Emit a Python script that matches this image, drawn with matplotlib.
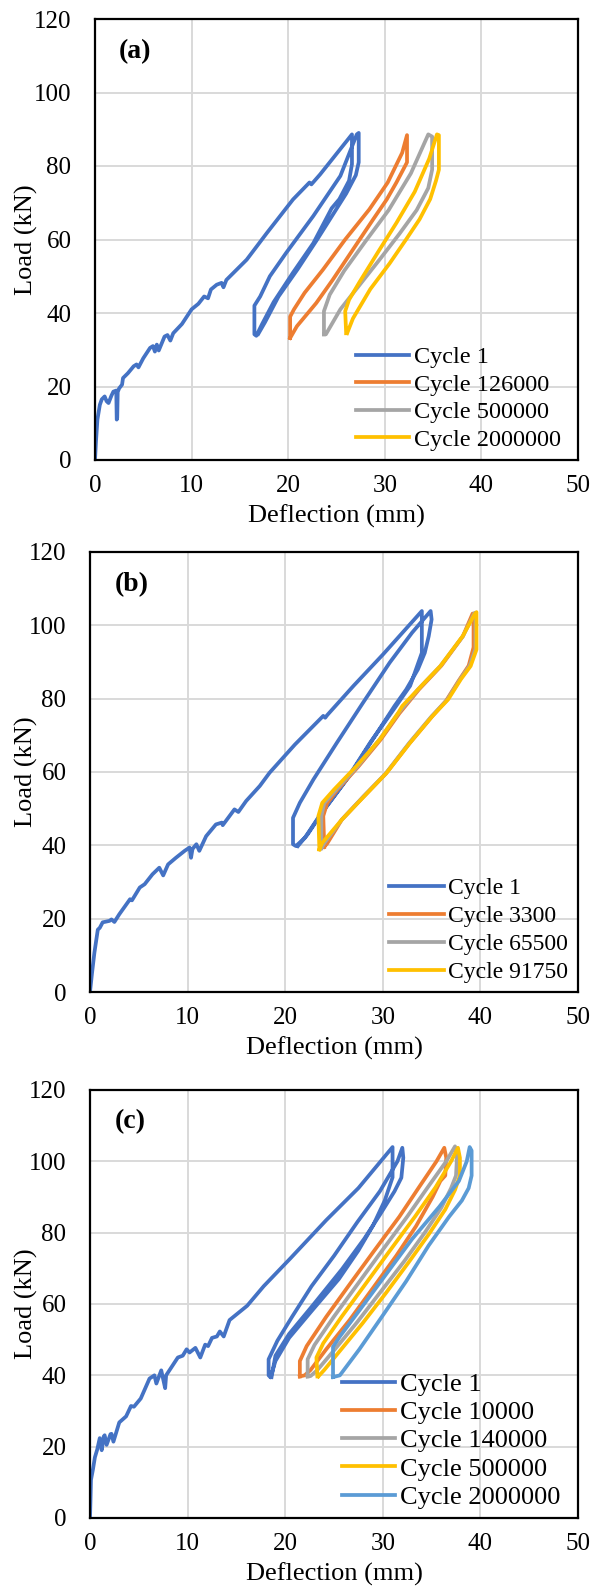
import matplotlib
matplotlib.use('Agg')
import matplotlib.pyplot as plt

plt.rcParams['font.family'] = ['Liberation Serif', 'DejaVu Serif']

# colours (Excel defaults)
c_blue = '#4472C4'
c_orange = '#ED7D31'
c_gray = '#A5A5A5'
c_yellow = '#FFC000'
c_lblue = '#5B9BD5'

# ---------------- panel (a) ----------------
a_c1_x = [0, 0.1, 0.25, 0.5, 0.7, 1.0, 1.2, 1.4, 1.7, 1.9, 2.2, 2.25, 2.3, 2.35, 2.5, 2.8, 2.9, 3.4, 4.0, 4.3, 4.5,
          5.0, 5.7, 6.0, 6.2, 6.4, 6.6, 7.2, 7.5, 7.8, 8.1, 9.0, 10.0, 10.7, 11.3, 11.7, 12.0, 12.6, 13.1, 13.3, 13.6,
          15.7, 17.8, 20.5, 22.2, 22.4, 23.3, 26.6,
          26.6, 26.3, 25.3, 24.5, 24.2, 22.6, 20.5, 18.5, 17.3, 16.7,
          16.5, 16.5, 17.1, 18.1, 19.8, 22.6, 25.4, 27.1, 27.3,
          27.3, 27.0, 26.0, 24.8, 23.0, 21.0, 19.0, 17.6, 16.9]
a_c1_y = [0, 5, 11, 15, 16.5, 17.3, 16, 15.5, 17.5, 18.6, 18.9, 11, 11.5, 18.5, 19.5, 20.5, 22.3, 23.6, 25.5, 26, 25.2,
          27.7, 30.5, 31, 29.5, 31.4, 29.8, 33.6, 34, 32.5, 34.5, 37, 41, 42.5, 44.5, 44, 46.4, 47.7, 48.2, 47, 49,
          54.5, 61.8, 70.9, 75.5, 75, 77.7, 88.6,
          80.5, 76, 71, 68.5, 67, 59, 51, 43, 37, 33.8,
          34.2, 42, 44.5, 50, 56.4, 66.4, 77.3, 88.6, 89,
          81, 77.5, 72.5, 67.5, 60, 52, 44.5, 37.5, 34.3]

a_c126k_x = [20.2, 20.2, 20.6, 21.7, 23.6, 25.9, 28.4, 30.3, 31.8, 32.3,
             32.3, 31.9, 31.2, 30.2, 28.8, 27.4, 26.0, 24.6, 22.9, 20.9, 20.2]
a_c126k_y = [33.2, 39, 41, 45.5, 51.8, 60, 68.2, 75.5, 83.6, 88.4,
             81, 79, 75.5, 70.9, 65.5, 60, 54.5, 49, 42.7, 36.4, 33.2]

a_c500k_x = [23.7, 23.7, 24.3, 25.8, 28.0, 30.4, 32.7, 34.5,
             34.9, 34.9, 34.5, 33.3, 31.5, 29.6, 27.5, 25.4, 23.9, 23.7]
a_c500k_y = [34.2, 40.5, 45, 51.5, 59.5, 68, 78, 88.6,
             88, 79, 74, 68, 61.5, 55, 48, 41, 34.2, 34.2]

a_c2m_x = [26.0, 25.9, 26.3, 27.4, 29.4, 31.2, 33.1, 34.6, 35.4,
           35.6, 35.6, 35.3, 34.7, 33.6, 32.2, 30.5, 28.5, 26.7, 26.1]
a_c2m_y = [34.5, 40.5, 43.6, 48.5, 57, 64.5, 73, 82, 88.6,
           88.4, 79, 76, 71, 65.5, 60, 53.5, 46.5, 38.5, 34.5]

a_labels = ['Cycle 1', 'Cycle 126000', 'Cycle 500000', 'Cycle 2000000']

# ---------------- panel (b) ----------------
b_c1_x = [0, 0.2, 0.45, 0.8, 1.0, 1.3, 2.0, 2.2, 2.5, 3.0, 4.1, 4.3, 5.1, 5.6, 6.4, 7.1, 7.5, 8.0, 8.8, 9.7,
          10.2, 10.35, 10.5, 10.9, 11.2, 11.9, 12.9, 13.5, 13.6, 14.8, 15.2, 16.0, 17.4, 18.4, 21.0, 23.9, 24.1,
          24.3, 27.0, 30.0, 34.0,
          34.0, 32.8, 31.1, 28.7, 26.3, 23.5, 22.0, 21.1,
          20.8, 20.8, 21.5, 22.9, 25.3, 28.0, 30.7, 33.0, 34.9,
          35.0, 34.7, 34.3, 33.6, 32.4, 31.2, 29.0, 26.6, 23.8, 22.3, 21.3]
b_c1_y = [0, 5, 10.7, 17, 17.5, 19, 19.4, 19.8, 19.1, 21.2, 25.3, 25, 28.5, 29.4, 32.1, 33.9, 31.8, 34.8, 36.6, 38.5,
          39.4, 36.6, 39, 40.3, 38.5, 42.5, 45.7, 46.2, 45.5, 49.8, 49.1, 52.1, 56.2, 59.8, 67.5, 75.3, 74.8,
          75.5, 83.5, 92, 103.9,
          92.5, 83.5, 77, 68, 58, 48, 42, 39.8,
          40.3, 47.5, 51.6, 58, 68, 79, 89.8, 98, 103.9,
          101.6, 97, 92.5, 88, 82.5, 78, 69, 59, 49, 43, 39.8]

b_c3300_x = [24.0, 23.9, 24.3, 25.3, 27.5, 29.8, 31.7, 33.7, 36.0, 38.2, 39.2,
             39.3, 39.3, 38.8, 37.8, 36.5, 35.0, 32.7, 30.3, 28.0, 25.8, 24.3, 24.0]
b_c3300_y = [39.6, 48, 51.5, 55, 61.5, 68.9, 76, 82.5, 89, 97, 103.2,
             103, 94, 89, 85, 79.5, 75, 67.7, 59.5, 53.2, 47, 40.5, 39.6]

b_c65500_x = [23.7, 23.7, 24.0, 25.2, 27.4, 29.7, 31.6, 33.6, 35.9, 38.2, 39.4,
              39.5, 39.5, 38.9, 37.9, 36.6, 35.0, 32.7, 30.3, 28.0, 25.8, 24.0, 23.7]
b_c65500_y = [39.2, 48, 51.5, 55.1, 61.5, 69, 76.1, 82.5, 88.9, 97, 103.4,
              103.2, 93.6, 89, 85.2, 79.7, 75.2, 67.9, 59.6, 53.3, 47, 40.6, 39.2]

b_c91750_x = [23.5, 23.4, 23.8, 25.0, 27.3, 29.7, 31.6, 32.0, 33.6, 35.9, 38.2, 39.4, 39.6,
              39.6, 39.0, 38.0, 36.7, 35.1, 32.8, 30.4, 28.1, 25.8, 23.8, 23.5]
b_c91750_y = [38.9, 48, 51.6, 55.2, 61.6, 68.9, 76.2, 78, 82.5, 88.9, 97.1, 103, 103.6,
              93.4, 88.9, 85.3, 79.8, 75.3, 68, 59.8, 53.4, 47, 40.7, 38.9]

b_labels = ['Cycle 1', 'Cycle 3300', 'Cycle 65500', 'Cycle 91750']

# ---------------- panel (c) ----------------
c_c1_x = [0, 0.05, 0.1, 0.3, 0.5, 0.74, 1.0, 1.2, 1.4, 1.5, 1.7, 2.1, 2.2, 2.4, 3.0, 3.7, 4.2, 4.5, 5.2, 6.1,
          6.6, 6.8, 7.3, 7.7, 7.8, 9.0, 9.5, 9.9, 10.2, 10.8, 11.3, 11.8, 12.1, 12.5, 13.0, 13.3, 13.7, 14.3,
          16.1, 17.8, 20.5, 24.2, 27.5, 31.0,
          31.0, 30.2, 29.0, 27.5, 25.5, 22.7, 20.4, 19.0, 18.5,
          18.3, 18.3, 19.2, 20.7, 22.7, 25.0, 27.4, 29.7, 31.5, 32.0,
          32.1, 31.9, 31.2, 29.7, 28.1, 25.8, 22.7, 20.4, 19.0, 18.6]
c_c1_y = [0, 5, 10.7, 13.6, 17, 19.2, 22.4, 19, 22.8, 23.2, 20.5, 23.5, 23.6, 21.4, 26.8, 28.5, 31.4, 31.2, 33.5, 39.1,
          40, 37.7, 41.4, 36.4, 40, 45, 45.5, 47.3, 46.4, 47.7, 45, 48.6, 48.2, 50.5, 50.9, 52.3, 50.9, 55.5,
          59.5, 65, 72.7, 83.5, 92.5, 104,
          95.5, 89, 82, 75, 67, 58, 50.5, 44, 39.4,
          40, 44.5, 49.7, 56.4, 65, 73.5, 83, 91.6, 100, 103.8,
          101, 95.4, 91.6, 85, 78.3, 69.7, 59.2, 51.6, 45.5, 39.5]

c_c10k_x = [21.5, 21.5, 22.2, 24.2, 26.6, 29.0, 31.7, 33.7, 35.5, 36.3,
            36.5, 36.4, 35.9, 35.1, 33.4, 31.4, 29.0, 26.6, 24.2, 22.6, 22.0, 21.5]
c_c10k_y = [39.7, 44, 48.2, 56.4, 65.5, 74.5, 84.5, 92.7, 100, 103.8,
            101, 96, 94.5, 90, 81.8, 73.6, 64.5, 55.5, 47.3, 41.5, 40, 39.7]

c_c140k_x = [22.3, 22.3, 23.0, 25.0, 27.4, 29.8, 32.5, 34.6, 36.5, 37.4,
             37.6, 37.5, 37.0, 36.0, 34.3, 32.2, 29.8, 27.4, 25.0, 23.3, 22.6, 22.3]
c_c140k_y = [39.7, 44.5, 48.5, 56.5, 65.5, 74.5, 84.5, 92.7, 100, 104.2,
             101, 96, 92.5, 87, 80, 72, 63.5, 55, 47, 41.5, 39.8, 39.7]

c_c500k_x = [23.3, 23.2, 23.9, 25.8, 28.2, 30.6, 33.3, 35.4, 37.0, 37.7,
             37.9, 37.9, 37.4, 36.4, 34.7, 32.6, 30.3, 27.9, 25.5, 24.0, 23.4]
c_c500k_y = [39.7, 45, 49, 56.5, 65.5, 74.5, 84.5, 92.7, 100, 103.8,
             101, 96, 92, 86.5, 79.5, 71.5, 63, 54.5, 46.5, 41.5, 39.7]

c_c2m_x = [24.9, 24.9, 25.6, 27.6, 30.3, 33.0, 35.8, 37.8, 38.6, 38.9,
           39.1, 39.1, 38.8, 38.1, 36.8, 34.7, 32.4, 29.9, 27.6, 25.6, 24.9]
c_c2m_y = [39.5, 48, 50.9, 58.2, 68.2, 78.2, 87.3, 94.5, 100, 104,
           103, 96, 92.5, 89, 84.5, 76.4, 66.4, 56.4, 47.3, 40, 39.5]

c_labels = ['Cycle 1', 'Cycle 10000', 'Cycle 140000', 'Cycle 500000', 'Cycle 2000000']

x_ticks = [0, 10, 20, 30, 40, 50]
y_ticks = [0, 20, 40, 60, 80, 100, 120]

W, H = 595, 1589
fig = plt.figure(figsize=(W / 100, H / 100), dpi=100)


def make_axes(left, right, top, bottom):
    ax = fig.add_axes([left / W, 1 - bottom / H, (right - left) / W, (bottom - top) / H])
    ax.set_xlim(0, 50)
    ax.set_ylim(0, 120)
    ax.set_xticks(x_ticks)
    ax.set_yticks(y_ticks)
    ax.grid(True, color='#D9D9D9', lw=1.4)
    ax.set_axisbelow(True)
    ax.tick_params(axis='both', length=0, labelsize=18)
    ax.tick_params(axis='x', pad=11)
    ax.tick_params(axis='y', pad=17)
    for s in ax.spines.values():
        s.set_linewidth(1.6)
        s.set_color('black')
    ax.set_xlabel('Deflection (mm)', fontsize=19)
    ax.set_ylabel('Load (kN)', fontsize=19)
    ax.xaxis.set_label_coords(0.5, -45 / (bottom - top))
    ax.yaxis.set_label_coords(-(left - 38) / (right - left), 0.5)
    return ax


lw = 2.7
# box: left, right, top, bottom in pixels; legend: font size, spacing, right edge (axes fraction)
panels = [
    ((95, 578, 19, 460), '(a)',
     [(a_c1_x, a_c1_y, c_blue), (a_c126k_x, a_c126k_y, c_orange),
      (a_c500k_x, a_c500k_y, c_gray), (a_c2m_x, a_c2m_y, c_yellow)], a_labels, (17.5, 0.23, 0.97, 2.2)),
    ((90, 578, 552, 992), '(b)',
     [(b_c1_x, b_c1_y, c_blue), (b_c3300_x, b_c3300_y, c_orange),
      (b_c65500_x, b_c65500_y, c_gray), (b_c91750_x, b_c91750_y, c_yellow)], b_labels, (17, 0.27, 0.985, 2.3)),
    ((90, 578, 1090, 1518), '(c)',
     [(c_c1_x, c_c1_y, c_blue), (c_c10k_x, c_c10k_y, c_orange), (c_c140k_x, c_c140k_y, c_gray),
      (c_c500k_x, c_c500k_y, c_yellow), (c_c2m_x, c_c2m_y, c_lblue)], c_labels, (19, 0.18, 0.97, 2.0)),
]

for box, tag, series, labels, leg in panels:
    ax = make_axes(*box)
    for (xs, ys, col), lab in zip(series, labels):
        ax.plot(xs, ys, color=col, lw=lw, label=lab, solid_joinstyle='round')
    ax.text(0.05, 0.925, tag, transform=ax.transAxes, fontsize=20, fontweight='bold',
            ha='left', va='center')
    fs, spacing, xr, hl = leg
    ax.legend(loc='lower right', bbox_to_anchor=(xr, 0.015), frameon=False, fontsize=fs,
              handlelength=hl, handletextpad=0.2, labelspacing=spacing, borderaxespad=0, borderpad=0.1)

fig.savefig('out.png', dpi=100)
